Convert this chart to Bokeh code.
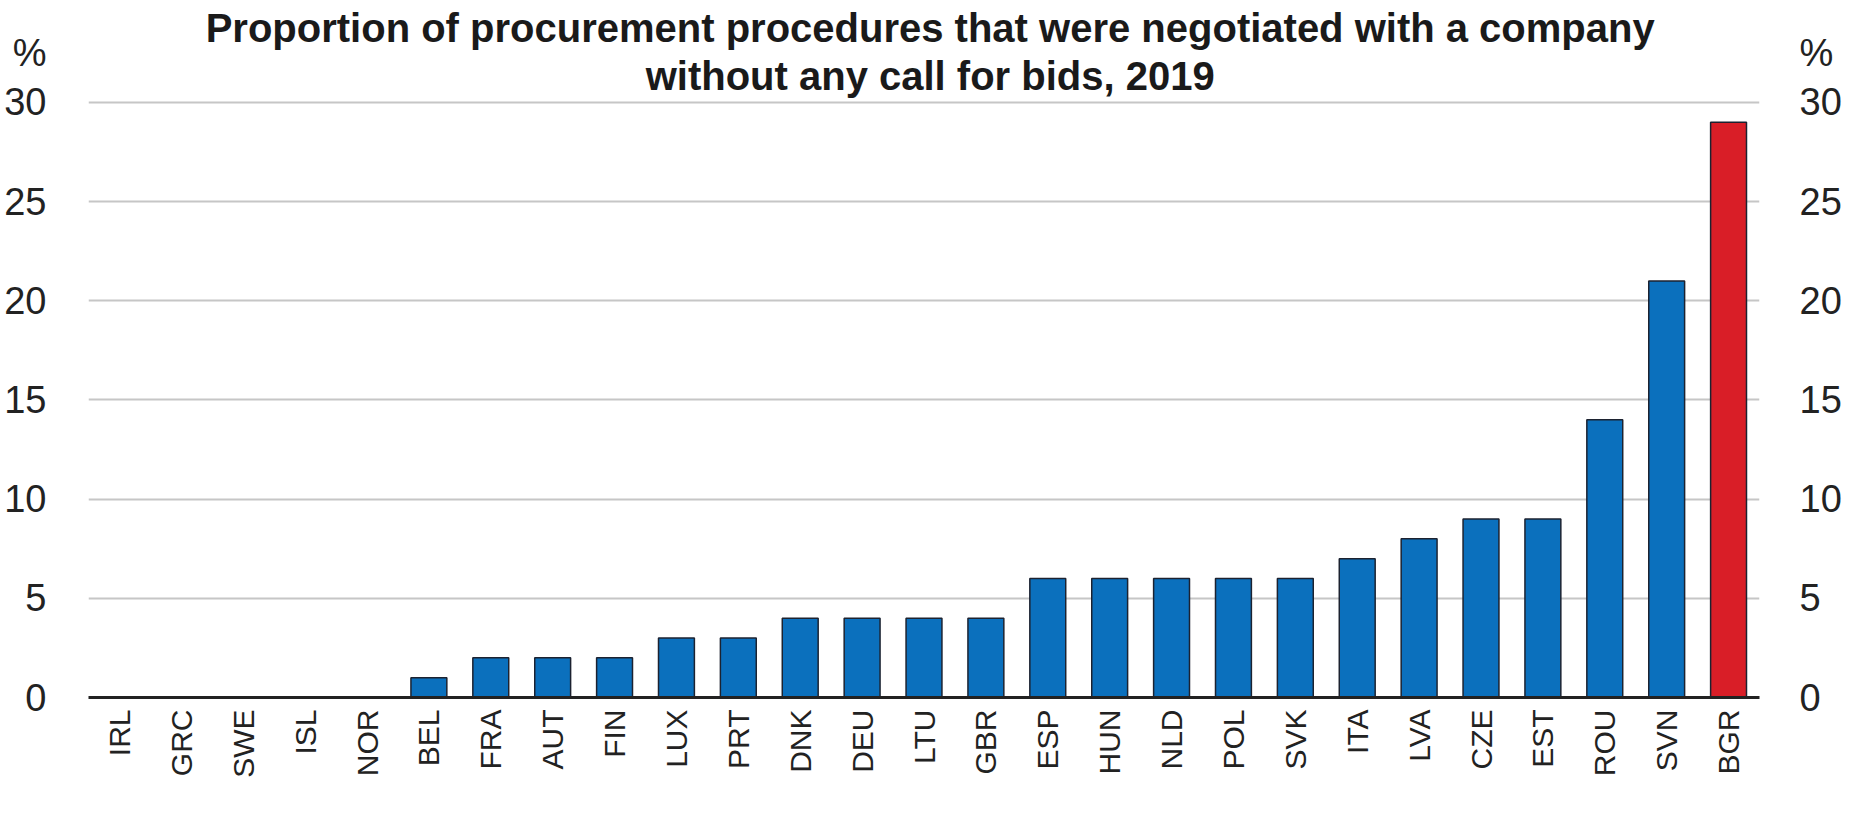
import math
from bokeh.plotting import figure
from bokeh.models import FactorRange, Range1d, LinearAxis, Label, FixedTicker, ColumnDataSource
from bokeh.embed import file_html
from bokeh.resources import INLINE

countries = ["IRL", "GRC", "SWE", "ISL", "NOR", "BEL", "FRA", "AUT", "FIN", "LUX",
             "PRT", "DNK", "DEU", "LTU", "GBR", "ESP", "HUN", "NLD", "POL", "SVK",
             "ITA", "LVA", "CZE", "EST", "ROU", "SVN", "BGR"]
values = [0, 0, 0, 0, 0, 1, 2, 2, 2, 3,
          3, 4, 4, 4, 4, 6, 6, 6, 6, 6,
          7, 8, 9, 9, 14, 21, 29]
highlight = ["BGR"]
y_ticks = [0, 5, 10, 15, 20, 25, 30]
title_lines = ["Proportion of procurement procedures that were negotiated with a company",
               "without any call for bids, 2019"]
unit_label = "%"

BLUE = "#0b70bd"
RED = "#d91e27"
FONT = "Liberation Sans"

# layout helpers (value-space positions above the plotted 0-30 band)
Y_TOP = 35.14
UNIT_Y = 32.5
TITLE_Y = [33.77, 31.35]

colors = [RED if c in highlight else BLUE for c in countries]
src = ColumnDataSource(dict(x=countries, top=values, color=colors))

p = figure(x_range=FactorRange(*countries, range_padding=0),
           y_range=Range1d(0, Y_TOP), title=None,
           width=1844, height=812,
           min_border_left=88, min_border_right=80,
           min_border_top=0, min_border_bottom=115,
           output_backend="svg", toolbar_location=None)
p.outline_line_color = None
p.background_fill_color = "white"
p.border_fill_color = "white"

p.vbar(x="x", top="top", width=0.58, bottom=0, source=src,
       fill_color="color", line_color="#1c2230", line_width=1.5)

# grid
p.xgrid.grid_line_color = None
p.ygrid.ticker = FixedTicker(ticks=y_ticks)
p.ygrid.grid_line_color = "#c6c6c6"
p.ygrid.grid_line_width = 2

axis_ticks = y_ticks + [UNIT_Y]
overrides = {UNIT_Y: unit_label}


def style_y(ax, standoff):
    ax.ticker = FixedTicker(ticks=axis_ticks)
    ax.major_label_overrides = overrides
    ax.axis_line_color = None
    ax.major_tick_line_color = None
    ax.minor_tick_line_color = None
    ax.major_tick_out = 0
    ax.major_tick_in = 0
    ax.minor_tick_out = 0
    ax.major_label_standoff = standoff
    ax.major_label_text_font = FONT
    ax.major_label_text_font_size = "38px"
    ax.major_label_text_color = "#222222"


style_y(p.yaxis[0], 42)
ra = LinearAxis()
style_y(ra, 40)
p.add_layout(ra, "right")

# x axis
xa = p.xaxis[0]
xa.axis_line_color = "#222222"
xa.axis_line_width = 3
xa.major_tick_line_color = None
xa.minor_tick_line_color = None
xa.major_tick_out = 0
xa.major_tick_in = 0
xa.major_label_orientation = math.pi / 2
xa.major_label_standoff = 12
xa.major_label_text_font = FONT
xa.major_label_text_font_size = "30px"
xa.major_label_text_color = "#222222"

# title lines
n = len(countries)
for txt, yv in zip(title_lines, TITLE_Y):
    p.add_layout(Label(x=n / 2 + 0.1, y=yv, text=txt, text_align="center",
                       text_baseline="alphabetic", text_font=FONT,
                       text_font_style="bold", text_font_size="40px",
                       text_color="#1a1a1a"))

open("out.html", "w").write(file_html(p, INLINE))
